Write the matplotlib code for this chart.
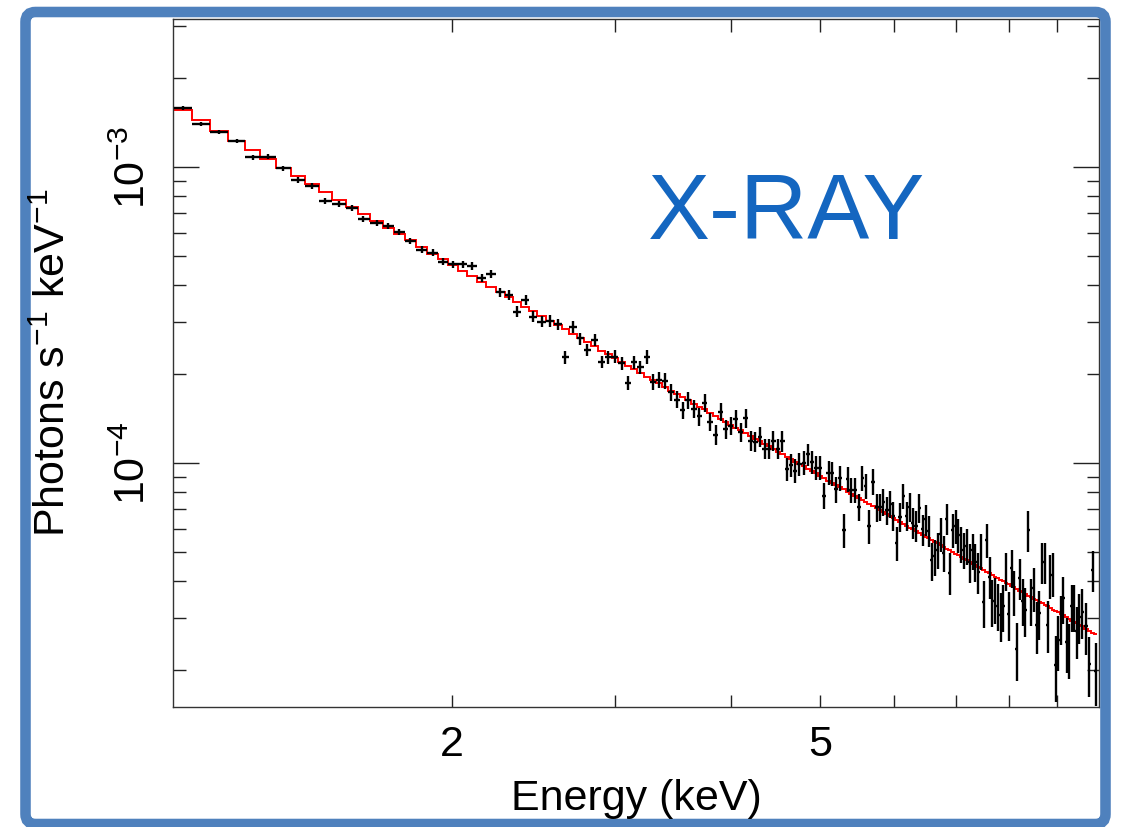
import numpy as np
import matplotlib
matplotlib.use('Agg')
import matplotlib.pyplot as plt
from matplotlib.patches import FancyBboxPatch
from matplotlib.transforms import IdentityTransform
from matplotlib.ticker import FixedLocator, FixedFormatter, NullFormatter, LogLocator

plt.rcParams['font.family'] = ['Liberation Sans', 'DejaVu Sans']
plt.rcParams['mathtext.fontset'] = 'custom'
plt.rcParams['mathtext.rm'] = 'Liberation Sans'
plt.rcParams['mathtext.it'] = 'Liberation Sans:italic'
plt.rcParams['mathtext.bf'] = 'Liberation Sans:bold'

# bin centres (keV)
energy_kev = [1.025, 1.072, 1.122, 1.172, 1.219, 1.266, 1.315, 1.364, 1.412, 1.460,
              1.512, 1.560, 1.605, 1.660, 1.708, 1.755, 1.803, 1.856, 1.908, 1.956,
              2.007, 2.056, 2.103, 2.154, 2.205, 2.255, 2.306, 2.351, 2.404, 2.449,
              2.501, 2.554, 2.603, 2.653, 2.706, 2.752, 2.802, 2.854, 2.904, 2.952,
              3.002, 3.052, 3.102, 3.150, 3.197, 3.253, 3.296, 3.351, 3.399, 3.450,
              3.504, 3.551, 3.601, 3.653, 3.701, 3.754, 3.801, 3.855, 3.903, 3.955,
              4.001, 4.054, 4.102, 4.154, 4.205, 4.252, 4.305, 4.355, 4.402, 4.449,
              4.505, 4.552, 4.603, 4.653, 4.701, 4.748, 4.798, 4.850, 4.898, 4.947,
              5.000, 5.050, 5.106, 5.152, 5.199, 5.251, 5.300, 5.353, 5.401, 5.451,
              5.502, 5.551, 5.598, 5.648, 5.700, 5.753, 5.800, 5.848, 5.902, 5.949,
              5.998, 6.051, 6.096, 6.147, 6.199, 6.250, 6.292, 6.343, 6.396, 6.450,
              6.503, 6.547, 6.601, 6.646, 6.696, 6.745, 6.795, 6.852, 6.898, 6.950,
              7.002, 7.048, 7.095, 7.148, 7.201, 7.255, 7.304, 7.352, 7.406, 7.456,
              7.512, 7.563, 7.625, 7.672, 7.726, 7.772, 7.830, 7.881, 7.934, 7.993,
              8.047, 8.094, 8.148, 8.215, 8.271, 8.324, 8.387, 8.444, 8.507, 8.565,
              8.620, 8.685, 8.743, 8.803, 8.859, 8.919, 8.979, 9.038, 9.092, 9.150,
              9.227, 9.288, 9.343, 9.403, 9.459, 9.521, 9.592, 9.681, 9.761, 9.859,
              9.918]

# observed flux, units of 1e-4 photons/s/keV
flux_e4 = [15.89, 13.97, 13.13, 12.30, 10.81, 10.86, 9.92, 9.06, 8.65, 7.69,
           7.52, 7.27, 6.67, 6.47, 6.34, 6.05, 5.64, 5.26, 5.15, 4.80,
           4.70, 4.70, 4.65, 4.24, 4.36, 3.78, 3.70, 3.25, 3.56, 3.13,
           3.01, 3.03, 2.95, 2.28, 2.89, 2.64, 2.41, 2.61, 2.20, 2.28,
           2.29, 2.18, 1.87, 2.19, 2.11, 2.29, 1.88, 1.91, 1.90, 1.74,
           1.64, 1.51, 1.63, 1.53, 1.44, 1.60, 1.38, 1.25, 1.49, 1.30,
           1.34, 1.41, 1.27, 1.42, 1.19, 1.18, 1.23, 1.12, 1.12, 1.19,
           1.12, 1.19, 0.953, 0.987, 0.943, 0.995, 1.005, 1.07, 1.012, 0.966,
           0.967, 0.777, 0.929, 0.925, 0.817, 0.894, 0.595, 0.883, 0.812, 0.812,
           0.710, 0.890, 0.838, 0.614, 0.867, 0.710, 0.713, 0.742, 0.695, 0.729,
           0.664, 0.539, 0.660, 0.775, 0.665, 0.713, 0.630, 0.614, 0.708, 0.598,
           0.647, 0.592, 0.469, 0.484, 0.509, 0.577, 0.497, 0.648, 0.427, 0.595,
           0.614, 0.573, 0.534, 0.509, 0.525, 0.463, 0.507, 0.465, 0.429, 0.507,
           0.339, 0.551, 0.414, 0.342, 0.348, 0.330, 0.307, 0.328, 0.434, 0.309,
           0.444, 0.368, 0.236, 0.409, 0.343, 0.319, 0.595, 0.343, 0.378, 0.284,
           0.311, 0.465, 0.464, 0.285, 0.419, 0.425, 0.208, 0.252, 0.300, 0.350,
           0.248, 0.237, 0.328, 0.328, 0.272, 0.303, 0.315, 0.281, 0.210, 0.436,
           0.199]

# fractional 1-sigma errors
rel_err = [0.015, 0.015, 0.016, 0.017, 0.018, 0.018, 0.019, 0.02, 0.02, 0.021,
           0.022, 0.022, 0.023, 0.024, 0.024, 0.025, 0.026, 0.027, 0.027, 0.028,
           0.029, 0.03, 0.03, 0.031, 0.032, 0.038, 0.04, 0.042, 0.04, 0.043,
           0.044, 0.044, 0.045, 0.05, 0.046, 0.047, 0.048, 0.047, 0.05, 0.05,
           0.05, 0.051, 0.055, 0.051, 0.052, 0.055, 0.062, 0.062, 0.062, 0.064,
           0.066, 0.068, 0.066, 0.068, 0.07, 0.068, 0.071, 0.075, 0.07, 0.073,
           0.073, 0.072, 0.075, 0.073, 0.078, 0.078, 0.077, 0.08, 0.08, 0.079,
           0.081, 0.08, 0.09, 0.09, 0.092, 0.09, 0.09, 0.088, 0.09, 0.092,
           0.093, 0.1, 0.094, 0.094, 0.099, 0.096, 0.13, 0.097, 0.1, 0.1,
           0.105, 0.098, 0.1, 0.13, 0.1, 0.106, 0.106, 0.105, 0.108, 0.106,
           0.11, 0.13, 0.11, 0.1, 0.11, 0.11, 0.12, 0.12, 0.11, 0.12,
           0.12, 0.12, 0.15, 0.14, 0.14, 0.13, 0.14, 0.12, 0.16, 0.13,
           0.13, 0.13, 0.14, 0.14, 0.14, 0.15, 0.14, 0.15, 0.16, 0.14,
           0.18, 0.13, 0.16, 0.18, 0.18, 0.18, 0.19, 0.18, 0.15, 0.19,
           0.15, 0.17, 0.22, 0.16, 0.18, 0.19, 0.16, 0.18, 0.17, 0.2,
           0.19, 0.16, 0.16, 0.2, 0.17, 0.17, 0.25, 0.21, 0.19, 0.18,
           0.21, 0.21, 0.18, 0.18, 0.2, 0.19, 0.19, 0.2, 0.23, 0.16,
           0.24]

# folded model per bin, units of 1e-4
model_e4 = [15.62, 14.39, 13.26, 12.27, 11.43, 10.68, 9.96, 9.34, 8.78, 8.27,
            7.76, 7.34, 6.97, 6.56, 6.23, 5.93, 5.66, 5.37, 5.11, 4.89,
            4.66, 4.47, 4.29, 4.11, 3.94, 3.79, 3.64, 3.51, 3.37, 3.26,
            3.14, 3.03, 2.92, 2.83, 2.73, 2.65, 2.56, 2.48, 2.40, 2.33,
            2.26, 2.20, 2.13, 2.08, 2.02, 1.96, 1.91, 1.86, 1.81, 1.76,
            1.71, 1.67, 1.63, 1.59, 1.55, 1.52, 1.48, 1.44, 1.41, 1.38,
            1.35, 1.32, 1.29, 1.26, 1.24, 1.21, 1.19, 1.16, 1.14, 1.12,
            1.09, 1.07, 1.05, 1.03, 1.011, 0.994, 0.975, 0.957, 0.940, 0.923,
            0.905, 0.889, 0.872, 0.858, 0.844, 0.829, 0.815, 0.801, 0.788, 0.775,
            0.763, 0.750, 0.739, 0.727, 0.715, 0.704, 0.693, 0.683, 0.672, 0.663,
            0.653, 0.643, 0.634, 0.625, 0.615, 0.606, 0.599, 0.590, 0.582, 0.573,
            0.565, 0.558, 0.550, 0.543, 0.536, 0.529, 0.522, 0.514, 0.508, 0.501,
            0.494, 0.489, 0.483, 0.476, 0.470, 0.464, 0.458, 0.453, 0.447, 0.442,
            0.436, 0.430, 0.424, 0.419, 0.414, 0.410, 0.404, 0.400, 0.395, 0.390,
            0.385, 0.381, 0.376, 0.371, 0.366, 0.362, 0.357, 0.353, 0.348, 0.344,
            0.340, 0.336, 0.332, 0.328, 0.324, 0.320, 0.316, 0.313, 0.309, 0.306,
            0.301, 0.298, 0.294, 0.291, 0.288, 0.285, 0.281, 0.276, 0.272, 0.267,
            0.264]

energy = np.array(energy_kev)
flux = np.array(flux_e4) * 1e-4
model = np.array(model_e4) * 1e-4
err = flux * np.array(rel_err)

# bin edges half way between neighbouring centres
mid = (energy[:-1] + energy[1:]) / 2
edges = np.concatenate([[2 * energy[0] - mid[0]], mid, [2 * energy[-1] - mid[-1]]])

W, H = 1127, 827
fig = plt.figure(figsize=(W / 100, H / 100), dpi=100)
ax = fig.add_axes([173 / W, 1 - 707 / H, 926 / W, 688 / H])

ax.stairs(model, edges, baseline=None, color='red', lw=1.4, zorder=2)
ax.errorbar(energy, flux, xerr=[energy - edges[:-1], edges[1:] - energy], yerr=err,
            fmt='none', ecolor='black', elinewidth=1.7, capsize=0, zorder=3)

ax.set_xscale('log')
ax.set_yscale('log')
ax.set_xlim(1, 10)
ax.set_ylim(1.5e-5, 3.17e-3)

ax.xaxis.set_major_locator(FixedLocator([2, 5]))
ax.xaxis.set_major_formatter(FixedFormatter(['2', '5']))
ax.xaxis.set_minor_locator(FixedLocator([3, 4, 6, 7, 8, 9]))
ax.xaxis.set_minor_formatter(NullFormatter())
ax.yaxis.set_major_locator(LogLocator(base=10))
ax.yaxis.set_minor_locator(LogLocator(base=10, subs=range(2, 10)))
ax.yaxis.set_minor_formatter(NullFormatter())

ax.tick_params(which='both', direction='in', top=True, right=True, width=1, color='#222222')
ax.tick_params(axis='x', which='both', length=9, labelsize=31, pad=13)
ax.tick_params(axis='y', which='major', length=19, labelsize=31, pad=14, labelrotation=90)
ax.tick_params(axis='y', which='minor', length=9)
plt.setp(ax.get_yticklabels(), va='center')
for s in ax.spines.values():
    s.set_linewidth(1.0)
    s.set_color('#333333')

fig.text(65 / W, 1 - 363 / H, r'Photons s$^{-1}$ keV$^{-1}$', fontsize=31,
         rotation=90, rotation_mode='anchor', ha='center', va='baseline')
fig.text(636 / W, 1 - 810 / H, 'Energy (keV)', fontsize=31, ha='center', va='baseline')
fig.text(648 / W, 1 - 239 / H, 'X-RAY', fontsize=67, color='#1466C0', ha='left', va='baseline')

# blue rounded frame around the slide
frame = FancyBboxPatch((25.5, 3), 1080, 812, boxstyle='round,pad=0,rounding_size=10',
                       transform=IdentityTransform(), fill=False, ec='#4F81BD', lw=7.6)
fig.add_artist(frame)

fig.savefig('out.png', dpi=100)
